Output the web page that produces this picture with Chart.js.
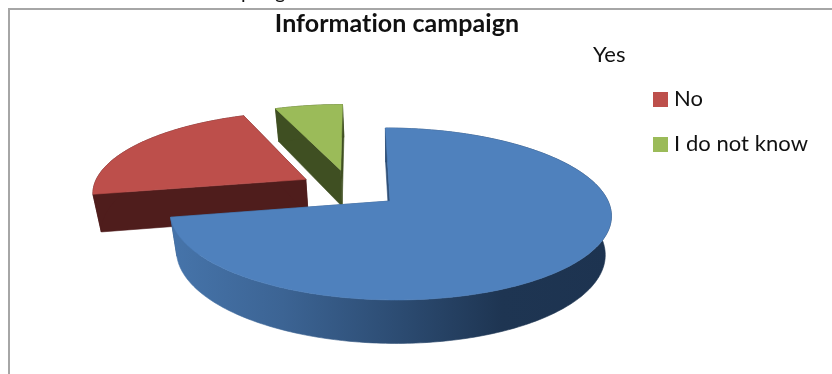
<!DOCTYPE html>
<html>
<head>
<meta charset="utf-8">
<title>Information campaign</title>
<script src="https://cdn.jsdelivr.net/npm/chart.js@4"></script>
<style>
  html, body { margin: 0; background: #fff; }
  #box { position: relative; width: 832px; height: 374px; }
</style>
</head>
<body>
<div id="box"><canvas id="graficoPizza" width="832" height="374"></canvas></div>
<script>
const categorias = ['Yes', 'No', 'I do not know'];
const valores = [72, 22, 6];
const coresTopo = ['#4f81bd', '#bd4f4b', '#9bbb59'];
const coresLado = ['#2f5079', '#4f1d1c', '#3f4f22'];

// tilted disc: screen position of a point on the pie plane (radius = 1)
const disco = { x: 390, y: 201, fugaX: 355, rx: 218, ry: 84, persp: 0.151 };

function projetar(u, v) {
  const w = 1 / (1 - disco.persp * v);
  return [
    disco.fugaX + (disco.rx * u + disco.x - disco.fugaX) * w,
    disco.y + disco.ry * v * w
  ];
}

// lower rim of the slice wall
function descer(p) {
  return [392 + (p[0] - 392) * 0.972, p[1] + 27 + 0.055 * p[1]];
}

function contornoFatia(arco, origem) {
  const meio = (arco.startAngle + arco.endAngle) / 2;
  const dist = arco.options.offset / 100;
  const cu = Math.cos(meio) * dist - origem[0];
  const cv = Math.sin(meio) * dist - origem[1];
  const pontos = [projetar(cu, cv)];
  const passos = Math.ceil((arco.endAngle - arco.startAngle) / (Math.PI / 180));
  for (let i = 0; i <= passos; i++) {
    const a = arco.startAngle + (arco.endAngle - arco.startAngle) * i / passos;
    pontos.push(projetar(cu + Math.cos(a), cv + Math.sin(a)));
  }
  return pontos;
}

function preencher(ctx, pontos, cor) {
  ctx.beginPath();
  pontos.forEach(function (p, i) {
    if (i === 0) ctx.moveTo(p[0], p[1]);
    else ctx.lineTo(p[0], p[1]);
  });
  ctx.closePath();
  ctx.fillStyle = cor;
  ctx.strokeStyle = cor;
  ctx.lineWidth = 0.6;
  ctx.fill();
  ctx.stroke();
}

const pizza3d = {
  id: 'pizza3d',
  beforeDatasetsDraw(chart) {
    const ctx = chart.ctx;
    const arcos = chart.getDatasetMeta(0).data;
    const meio0 = (arcos[0].startAngle + arcos[0].endAngle) / 2;
    const d0 = arcos[0].options.offset / 100;
    const origem = [Math.cos(meio0) * d0, Math.sin(meio0) * d0];

    // the big slice has a lit-from-left wall
    const degrade = ctx.createLinearGradient(172, 0, 612, 0);
    degrade.addColorStop(0, '#4674aa');
    degrade.addColorStop(0.25, '#3c6494');
    degrade.addColorStop(0.5, '#2d4d74');
    degrade.addColorStop(0.75, '#1e3552');
    degrade.addColorStop(1, '#1d3350');

    // back slices first so the big one overlaps them
    [1, 2, 0].forEach(function (i) {
      const topo = contornoFatia(arcos[i], origem);
      const corLado = i === 0 ? degrade : coresLado[i];
      const centro = topo[0];
      const borda = topo.slice(1);
      const primeiro = borda[0];
      const ultimo = borda[borda.length - 1];
      // radial faces, then the curved wall as a single shape
      preencher(ctx, [centro, primeiro, descer(primeiro), descer(centro)], coresLado[i]);
      preencher(ctx, [centro, ultimo, descer(ultimo), descer(centro)], coresLado[i]);
      preencher(ctx, borda.concat(borda.map(descer).reverse()), corLado);
      preencher(ctx, topo, coresTopo[i]);
    });
    return false;
  },
  beforeDraw(chart) {
    const ctx = chart.ctx;
    // a tiny spacing keeps Lato from joining "ti" into a ligature
    ctx.letterSpacing = '0.05px';
    ctx.save();
    ctx.strokeStyle = '#a6a6a6';
    ctx.lineWidth = 2;
    ctx.beginPath();
    ctx.moveTo(9, 374);
    ctx.lineTo(9, 9);
    ctx.lineTo(832, 9);
    ctx.stroke();
    // tail of the line of text above the frame
    ctx.fillStyle = '#111';
    ctx.font = '20px Lato';
    ctx.textBaseline = 'alphabetic';
    ctx.fillText('p', 241, -1);
    ctx.fillText('g', 275, -1);
    ctx.restore();
  },
  afterDraw(chart) {
    const ctx = chart.ctx;
    const cores = chart.data.datasets[0].backgroundColor;
    const linhas = [55, 99, 144];
    ctx.save();
    ctx.font = '22px Lato';
    ctx.textBaseline = 'middle';
    ctx.textAlign = 'left';
    chart.data.labels.forEach(function (rotulo, i) {
      ctx.fillStyle = '#111';
      if (i === 0) {
        ctx.fillText(rotulo, 593, linhas[i]);
        return;
      }
      ctx.fillText(rotulo, 674, linhas[i]);
      ctx.fillStyle = cores[i];
      ctx.fillRect(653, linhas[i] - 7, 15, 15);
    });
    ctx.restore();
  }
};

new Chart(document.getElementById('graficoPizza'), {
  type: 'pie',
  data: {
    labels: categorias,
    datasets: [
      {
        data: valores,
        backgroundColor: coresTopo,
        borderWidth: 0,
        offset: 24
      }
    ]
  },
  options: {
    responsive: false,
    animation: false,
    layout: { padding: { right: 38 } },
    plugins: {
      legend: { display: false },
      tooltip: { enabled: false },
      title: {
        display: true,
        text: 'Information campaign',
        color: '#111',
        font: { family: 'Lato', size: 25, weight: 'bold' },
        padding: { top: 9, bottom: 0 }
      }
    }
  },
  plugins: [pizza3d]
});
</script>
</body>
</html>
